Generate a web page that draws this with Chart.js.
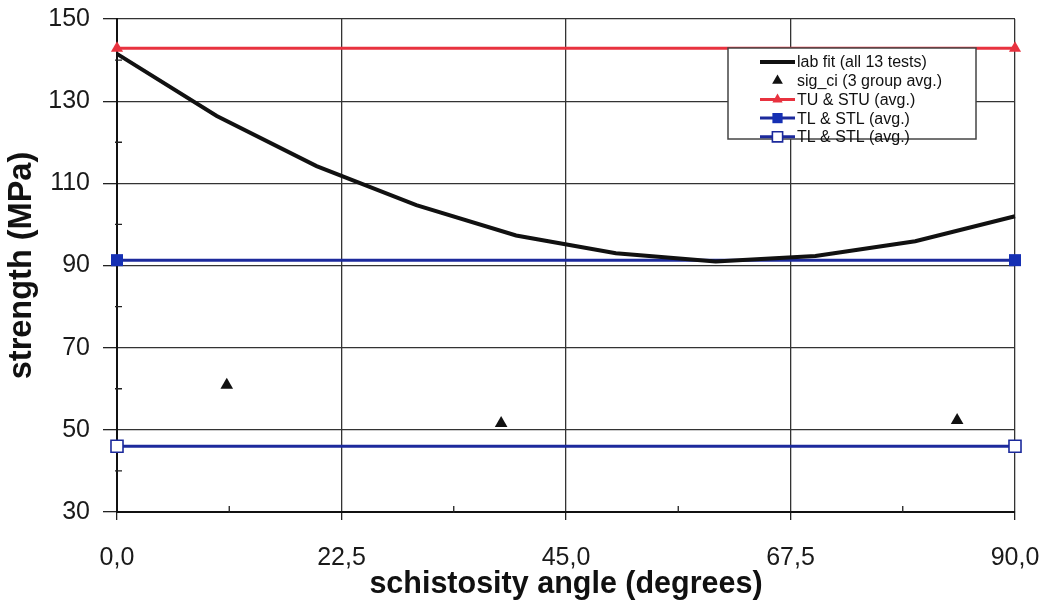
<!DOCTYPE html>
<html>
<head>
<meta charset="utf-8">
<script src="https://cdn.jsdelivr.net/npm/chart.js@4.4.0/dist/chart.umd.min.js"></script>
<style>
html,body{margin:0;padding:0;background:#fff;}
#wrap{width:1050px;height:612px;position:relative;}
</style>
</head>
<body>
<div id="wrap"><canvas id="c" width="1050" height="612"></canvas></div>
<script>
// ---- data ----
const labAngles   = [0, 10, 20, 30, 40, 50, 60, 70, 80, 90];
const labStrength = [141.5, 126.4, 114.2, 104.7, 97.3, 93.0, 91.0, 92.3, 95.9, 102.0];
const sigCiAngles   = [11.0, 38.5, 84.2];
const sigCiStrength = [60.9, 51.6, 52.3];
const avgAngles  = [0, 90];
const tuStuAvg   = [142.9, 142.9];
const tlStlAvgA  = [91.3, 91.3];
const tlStlAvgB  = [46.0, 46.0];

const xMajorTicks = [0, 22.5, 45, 67.5, 90];
const xMinorTicks = [11.25, 33.75, 56.25, 78.75];
const yMajorTicks = [30, 50, 70, 90, 110, 130, 150];
const yMinorTicks = [40, 60, 80, 100, 120, 140];

const seriesLabels = ['lab fit (all 13 tests)', 'sig_ci (3 group avg.)', 'TU & STU (avg.)', 'TL & STL (avg.)', 'TL & STL (avg.)'];
const xTitle = 'schistosity angle (degrees)';
const yTitle = 'strength (MPa)';

const pts = (xs, ys) => xs.map((x, i) => ({x: x, y: ys[i]}));

const RED = '#e8323f';
const BLUE = '#1c2a9c';
const BLUE_FILL = '#1630b4';
const FONT = '"Liberation Sans", Arial, Helvetica, sans-serif';

const minorTicks = {
  id: 'minorTicks',
  afterDraw(chart) {
    const ctx = chart.ctx, a = chart.chartArea;
    const xs = chart.scales.x, ys = chart.scales.y;
    ctx.save();
    ctx.strokeStyle = '#222';
    ctx.lineWidth = 1.3;
    ctx.beginPath();
    xMinorTicks.forEach(v => {
      const px = xs.getPixelForValue(v);
      ctx.moveTo(px, a.bottom + 1);
      ctx.lineTo(px, a.bottom - 6);
    });
    yMinorTicks.forEach(v => {
      const py = ys.getPixelForValue(v);
      ctx.moveTo(a.left - 2, py);
      ctx.lineTo(a.left + 5, py);
    });
    ctx.stroke();
    ctx.restore();
  }
};

const boxLegend = {
  id: 'boxLegend',
  afterDraw(chart) {
    const ctx = chart.ctx;
    const L = 728, T = 48, W = 248, H = 91;
    ctx.save();
    ctx.fillStyle = '#fff';
    ctx.fillRect(L, T, W, H);
    ctx.strokeStyle = '#444';
    ctx.lineWidth = 1.5;
    ctx.strokeRect(L, T, W, H);
    ctx.font = '16px ' + FONT;
    ctx.textBaseline = 'middle';
    ctx.textAlign = 'left';
    chart.data.datasets.forEach((ds, i) => {
      const y = T + 14 + i * 18.7;
      const x0 = L + 32, x1 = L + 67, xm = (x0 + x1) / 2;
      if (ds.showLine !== false) {
        ctx.strokeStyle = ds.borderColor;
        ctx.lineWidth = ds.borderWidth;
        ctx.beginPath();
        ctx.moveTo(x0, y);
        ctx.lineTo(x1, y);
        ctx.stroke();
      }
      if (ds.pointRadius > 0) {
        ctx.fillStyle = ds.pointBackgroundColor;
        ctx.strokeStyle = ds.pointBorderColor;
        ctx.lineWidth = ds.pointBorderWidth;
        Chart.helpers.drawPoint(ctx, {pointStyle: ds.pointStyle, rotation: 0, radius: ds.pointRadius * 0.85, borderWidth: ds.pointBorderWidth}, xm, y);
      }
      ctx.fillStyle = '#111';
      ctx.fillText(ds.label, L + 69, y + 1);
    });
    ctx.restore();
  }
};

new Chart(document.getElementById('c'), {
  type: 'scatter',
  data: {
    datasets: [
      {
        label: seriesLabels[0],
        data: pts(labAngles, labStrength),
        showLine: true,
        borderColor: '#111',
        borderWidth: 4,
        pointRadius: 0,
        pointBackgroundColor: '#111',
        pointBorderColor: '#111',
        pointBorderWidth: 0,
        tension: 0,
        clip: false
      },
      {
        label: seriesLabels[1],
        data: pts(sigCiAngles, sigCiStrength),
        showLine: false,
        pointStyle: 'triangle',
        pointRadius: 7.3,
        pointBackgroundColor: '#111',
        pointBorderColor: '#111',
        pointBorderWidth: 0,
        borderColor: '#111',
        clip: false
      },
      {
        label: seriesLabels[2],
        data: pts(avgAngles, tuStuAvg),
        showLine: true,
        borderColor: RED,
        borderWidth: 3,
        pointStyle: 'triangle',
        pointRadius: 7,
        pointBackgroundColor: RED,
        pointBorderColor: RED,
        pointBorderWidth: 0,
        clip: false
      },
      {
        label: seriesLabels[3],
        data: pts(avgAngles, tlStlAvgA),
        showLine: true,
        borderColor: BLUE,
        borderWidth: 3,
        pointStyle: 'rect',
        pointRadius: 8.5,
        pointBackgroundColor: BLUE_FILL,
        pointBorderColor: BLUE_FILL,
        pointBorderWidth: 0,
        clip: false
      },
      {
        label: seriesLabels[4],
        data: pts(avgAngles, tlStlAvgB),
        showLine: true,
        borderColor: BLUE,
        borderWidth: 3,
        pointStyle: 'rect',
        pointRadius: 8.5,
        pointBackgroundColor: '#ffffff',
        pointBorderColor: BLUE,
        pointBorderWidth: 1.6,
        clip: false
      }
    ]
  },
  options: {
    responsive: false,
    devicePixelRatio: 1,
    animation: false,
    events: [],
    layout: {padding: {top: 19, right: 35, bottom: 0, left: 0}},
    plugins: {
      legend: {display: false},
      tooltip: {enabled: false}
    },
    scales: {
      x: {
        type: 'linear',
        min: 0, max: 90,
        afterBuildTicks: s => { s.ticks = xMajorTicks.map(v => ({value: v})); },
        afterFit: s => { s.height = 100; s.paddingLeft = 0; s.paddingRight = 0; },
        ticks: {
          color: '#1a1a1a',
          font: {family: FONT, size: 25},
          padding: 23,
          maxRotation: 0,
          autoSkip: false,
          callback: v => Number(v).toFixed(1).replace('.', ',')
        },
        grid: {color: '#333', lineWidth: 1.3, tickLength: 8, tickColor: '#222', tickWidth: 1.3},
        border: {display: true, color: '#111', width: 2},
        title: {display: true, text: xTitle, color: '#111', font: {family: FONT, size: 30.5, weight: 'bold'}, padding: {top: 0, bottom: 9}}
      },
      y: {
        type: 'linear',
        min: 30, max: 150,
        afterBuildTicks: s => { s.ticks = yMajorTicks.map(v => ({value: v})); },
        afterFit: s => { s.width = 117; s.paddingTop = 0; s.paddingBottom = 0; },
        ticks: {
          color: '#1a1a1a',
          font: {family: FONT, size: 25},
          padding: 13,
          autoSkip: false,
          callback: v => String(v)
        },
        grid: {color: '#333', lineWidth: 1.3, tickLength: 14, tickColor: '#222', tickWidth: 1.3},
        border: {display: true, color: '#111', width: 2},
        title: {display: true, text: yTitle, color: '#111', font: {family: FONT, size: 32.5, weight: 'bold'}, padding: {top: 3, bottom: 0}}
      }
    }
  },
  plugins: [minorTicks, boxLegend]
});
</script>
</body>
</html>
